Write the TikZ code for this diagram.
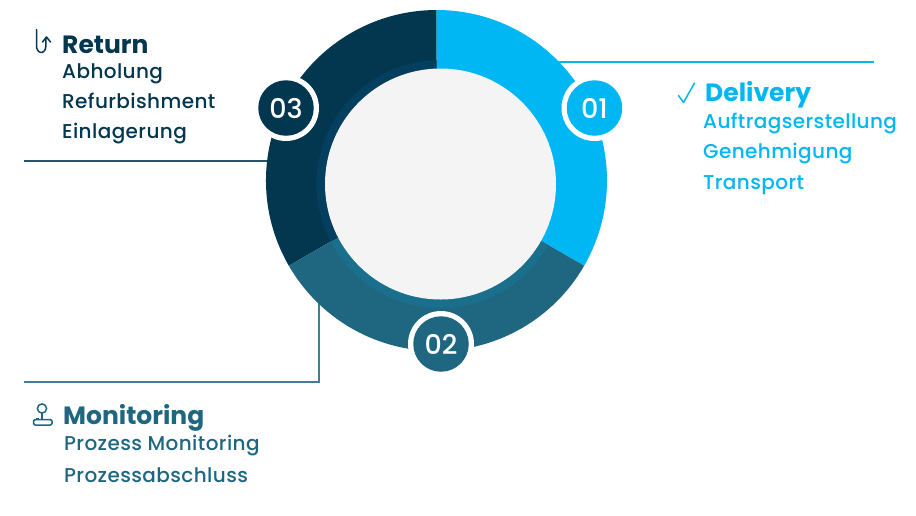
\documentclass[tikz,border=0pt]{standalone}
\usepackage{fontspec}
\setmainfont{Poppins}
\newfontfamily\medfont[LetterSpace=2]{Poppins Medium}
\newfontfamily\numfont{Poppins Medium}
\definecolor{cyanc}{HTML}{00B6F3}
\definecolor{tealc}{HTML}{1F6781}
\definecolor{tealb}{HTML}{1A6F8C}
\definecolor{navyc}{HTML}{03364F}
\definecolor{navyb}{HTML}{043F5F}
\definecolor{grayc}{HTML}{F4F4F4}
\tikzset{
  x=1pt,y=-1pt,
  headtxt/.style={anchor=base west,inner sep=0pt,font=\fontsize{25}{28}\selectfont\bfseries},
  subtxt/.style={anchor=base west,inner sep=0pt,font=\medfont\fontsize{20}{24}\selectfont},
  numbadge/.style={circle,minimum size=55.5pt,inner sep=0pt,text=white,font=\numfont\fontsize{27}{30}\selectfont},
  halo/.style={circle,minimum size=66pt,inner sep=0pt,fill=white},
  leader/.style={line width=1.1pt},
  iconline/.style={line width=1.5pt,line cap=round,line join=round}
}
\begin{document}
\begin{tikzpicture}
\useasboundingbox (0,0) rectangle (916,515);
\coordinate (c) at (436.5,180.5);
\coordinate (cinner) at (440.5,184);
% leaders
\coordinate (l1a) at (874,62); \coordinate (l1b) at (555,62);
\coordinate (l3a) at (24,161); \coordinate (l3b) at (275,161);
\coordinate (l2a) at (24,382); \coordinate (l2c) at (319,382); \coordinate (l2b) at (319,300);
\draw[leader,cyanc] (l1a) -- (l1b);
\draw[leader,navyc!85!white] (l3a) -- (l3b);
\draw[leader,tealc!85!white] (l2a) -- (l2c) -- (l2b);
% ring
\fill[navyc] (c) -- ++(150:170.5) arc[start angle=150,end angle=270,radius=170.5] -- cycle;
\fill[cyanc] (c) -- ++(-90:170.5) arc[start angle=-90,end angle=30,radius=170.5] -- cycle;
\fill[tealc] (c) -- ++(30:170.5) arc[start angle=30,end angle=150,radius=170.5] -- cycle;
\begin{scope}
  \clip (c) -- ++(30:170.5) arc[start angle=30,end angle=150,radius=170.5] -- cycle;
  \fill[tealb] (cinner) circle[radius=124];
\end{scope}
\begin{scope}
  \clip (c) -- ++(150:170.5) arc[start angle=150,end angle=270,radius=170.5] -- cycle;
  \fill[navyb] (cinner) circle[radius=124];
\end{scope}
\node[circle,fill=grayc,minimum size=231pt,inner sep=0pt] (hub) at (cinner) {};
% badges
\node[halo] (h1) at (594.5,108) {};
\node[halo] (h2) at (441,344) {};
\node[halo] (h3) at (286,108) {};
\node[numbadge,fill=cyanc] (b1) at (594.5,108) {01};
\node[numbadge,fill=tealc] (b2) at (441,344) {02};
\node[numbadge,fill=navyc] (b3) at (286,108) {03};
% Return
\node[headtxt,text=navyc] (t3) at (62,53) {Return};
\node[subtxt,text=navyc] (t3a) at (62,78.5) {Abholung};
\node[subtxt,text=navyc] (t3b) at (62,108.5) {Refurbishment};
\node[subtxt,text=navyc] (t3c) at (62,138.5) {Einlagerung};
\draw[iconline,navyc] (36.5,29.5) -- (36.5,46) arc[start angle=180,end angle=0,x radius=4.7,y radius=6.5] -- (46,37.5);
\draw[iconline,navyc] (42.5,42) -- (46.5,37) -- (50.5,42);
% Delivery
\node[headtxt,text=cyanc] (t1) at (705,101) {Delivery};
\node[subtxt,text=cyanc] (t1a) at (703,128) {Auftragserstellung};
\node[subtxt,text=cyanc] (t1b) at (703,158.5) {Genehmigung};
\node[subtxt,text=cyanc] (t1c) at (703,189) {Transport};
\draw[iconline,cyanc] (678.5,95.5) -- (683.5,102.5) -- (694.5,83);
% Monitoring
\node[headtxt,text=tealc] (t2) at (63,424) {Monitoring};
\node[subtxt,text=tealc] (t2a) at (64,450) {Prozess Monitoring};
\node[subtxt,text=tealc] (t2b) at (64,482) {Prozessabschluss};
\draw[iconline,tealc] (42,408.5) circle[radius=4.6];
\draw[iconline,tealc] (42,413) -- (42,419);
\draw[iconline,tealc,rounded corners=1.5pt] (33.5,419.5) rectangle (52,425);
\draw[tealc,line width=0.8pt] (36,418) -- (39,418);
\end{tikzpicture}
\end{document}
